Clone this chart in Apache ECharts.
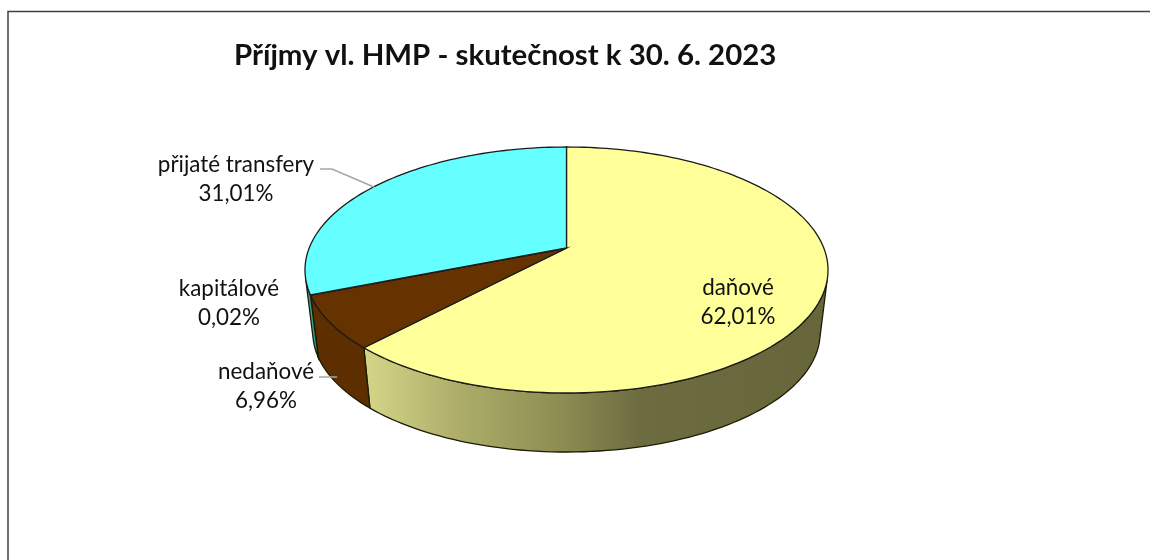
<!DOCTYPE html>
<html lang="cs">
<head>
<meta charset="UTF-8">
<title>Příjmy vl. HMP</title>
<script src="https://cdn.jsdelivr.net/npm/echarts@6/dist/echarts.min.js"></script>
<style>
  html, body { margin: 0; padding: 0; background: #fff; }
  #main { width: 1150px; height: 560px; }
</style>
</head>
<body>
<div id="main"></div>
<script>
// data
var titleText = 'Příjmy vl. HMP - skutečnost k 30. 6. 2023';
var categories = ['daňové', 'nedaňové', 'kapitálové', 'přijaté transfery'];
var shares = [62.01, 6.96, 0.02, 31.01];

// look of each slice
var topColors = ['#ffff99', '#663300', '#99ccff', '#66ffff'];
var wallColors = [null, '#5c2e00', '#5c8fb0', '#3c9c9c'];
var labelPos = [[738, 302], [266, 386], [229, 303], [236, 179]];

// Excel style 3D pie: circle seen in perspective, so the apex is above the ellipse centre
var cx = 566.5, apexY = 248;
var persp = 0.1789, yK = -74.7, xK = 257.3;
var depthScale = 0.97, depthShift = 70.8;
var frontLimitY = 277; // rim points below this have a visible wall

function rim(deg) {
  var t = deg * Math.PI / 180;
  var u = Math.sin(t), v = Math.cos(t);
  var w = 1 + persp * v;
  return [cx + xK * u / w, (yK * v + apexY) / w];
}
function lower(p) {
  return [cx + (p[0] - cx) * depthScale, p[1] * depthScale + depthShift];
}
function arc(from, to) {
  var pts = [];
  var n = Math.max(1, Math.ceil((to - from) / 1.5));
  for (var i = 0; i <= n; i++) pts.push(rim(from + (to - from) * i / n));
  return pts;
}
function startDeg(idx) {
  var sum = 0;
  for (var i = 0; i < idx; i++) sum += shares[i];
  return sum * 3.6;
}

var wallGradient = new echarts.graphic.LinearGradient(362, 0, 826, 0, [
  { offset: 0, color: '#d6d68a' },
  { offset: 0.22, color: '#abab68' },
  { offset: 0.42, color: '#8e8e54' },
  { offset: 0.6, color: '#6c6c40' },
  { offset: 1, color: '#66663a' }
], true);

function renderWall(params, api) {
  var i = params.dataIndex;
  var from = startDeg(i);
  var pts = arc(from, from + api.value(0) * 3.6).filter(function (p) { return p[1] >= frontLimitY; });
  if (pts.length < 2) return null;
  var low = pts.map(lower).reverse();
  return {
    type: 'polygon',
    shape: { points: pts.concat(low) },
    style: { fill: wallColors[i] || wallGradient, stroke: '#1c1c00', lineWidth: 1.3 }
  };
}

function renderTop(params, api) {
  var i = params.dataIndex;
  var from = startDeg(i);
  var pts = arc(from, from + api.value(0) * 3.6);
  return {
    type: 'polygon',
    shape: { points: [[cx, apexY]].concat(pts) },
    style: { fill: topColors[i], stroke: '#1c1c1c', lineWidth: 1.3 }
  };
}

function renderLabel(params, api) {
  var i = params.dataIndex;
  return {
    type: 'text',
    style: {
      x: labelPos[i][0],
      y: labelPos[i][1],
      text: categories[i] + '\n' + api.value(0).toFixed(2).replace('.', ',') + '%',
      fill: '#111',
      font: '22.4px Lato',
      lineHeight: 29,
      align: 'center',
      verticalAlign: 'middle'
    }
  };
}

var sliceData = shares.map(function (v) { return [v]; });
var chart = echarts.init(document.getElementById('main'), null, { renderer: 'canvas' });

chart.setOption({
  animation: false,
  backgroundColor: '#fff',
  title: {
    text: titleText,
    left: 234,
    top: 41,
    padding: 0,
    textStyle: { fontFamily: 'Lato', fontSize: 29.4, fontWeight: 'bold', color: '#111' }
  },
  graphic: [
    { type: 'polyline', z: 10, shape: { points: [[8, 560], [8, 11.5], [1150, 11.5]] },
      style: { fill: null, stroke: '#404040', lineWidth: 1.5 } },
    { type: 'polyline', z: 10, shape: { points: [[320, 169], [332, 169], [374, 187]] },
      style: { fill: null, stroke: '#a6a6a6', lineWidth: 1.5 } },
    { type: 'polyline', z: 10, shape: { points: [[319, 377], [337, 377]] },
      style: { fill: null, stroke: '#a6a6a6', lineWidth: 1.5 } }
  ],
  series: [
    { type: 'custom', coordinateSystem: 'none', z: 1, silent: true, data: sliceData, renderItem: renderWall },
    { type: 'custom', coordinateSystem: 'none', z: 2, silent: true, data: sliceData, renderItem: renderTop },
    { type: 'custom', coordinateSystem: 'none', z: 3, silent: true, data: sliceData, renderItem: renderLabel }
  ]
});
</script>
</body>
</html>
